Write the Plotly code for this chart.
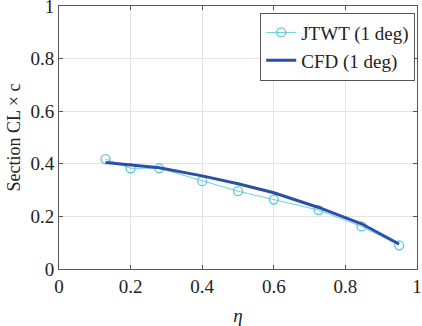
import plotly.graph_objects as go

eta_jtwt = [0.13, 0.20, 0.28, 0.40, 0.50, 0.60, 0.725, 0.845, 0.95]
cl_jtwt = [0.418, 0.383, 0.383, 0.334, 0.296, 0.264, 0.224, 0.162, 0.090]

eta_cfd = [0.13, 0.28, 0.40, 0.50, 0.60, 0.725, 0.845, 0.95]
cl_cfd = [0.405, 0.385, 0.354, 0.324, 0.290, 0.234, 0.172, 0.095]

x_ticks = [0, 0.2, 0.4, 0.6, 0.8, 1]
y_ticks = [0, 0.2, 0.4, 0.6, 0.8, 1]

font = "Liberation Serif, Times New Roman, serif"

fig = go.Figure()
fig.add_trace(go.Scatter(
    x=eta_jtwt, y=cl_jtwt, mode="lines+markers", name="JTWT (1 deg)",
    line=dict(color="#6fd0dc", width=1),
    marker=dict(symbol="circle-open", size=9, color="#5cc8d8", line=dict(width=1.3)),
))
fig.add_trace(go.Scatter(
    x=eta_cfd, y=cl_cfd, mode="lines", name="CFD (1 deg)",
    line=dict(color="#2b4fa6", width=3),
))

axis_common = dict(
    showgrid=True, gridcolor="#e3e3e3", gridwidth=1,
    showline=True, linecolor="#555555", linewidth=1, mirror="ticks",
    ticks="inside", ticklen=4, tickcolor="#555555",
    zeroline=False, automargin=False, ticklabeloverflow="allow",
    tickfont=dict(family=font, size=19, color="#222222"),
)

fig.update_layout(
    width=422, height=326,
    margin=dict(l=59, r=5, t=6, b=57),
    paper_bgcolor="white", plot_bgcolor="white",
    font=dict(family=font, size=18, color="#222222"),
    showlegend=True,
    legend=dict(
        x=0.995, y=0.975, xanchor="right", yanchor="top",
        bgcolor="white", bordercolor="#555555", borderwidth=1,
        font=dict(family=font, size=19, color="#222222"),
        tracegroupgap=0, itemwidth=30,
    ),
    xaxis=dict(range=[0, 1], tickvals=x_ticks, ticktext=[str(v) for v in x_ticks],
               title=dict(text="<i>η</i>", standoff=12, font=dict(family=font, size=19)),
               **axis_common),
    yaxis=dict(range=[0, 1], tickvals=y_ticks, ticktext=[str(v) for v in y_ticks],
               title=dict(text="Section CL × c", standoff=5, font=dict(family=font, size=18)),
               **axis_common),
)

fig.write_html("out.html", post_script="document.body.style.margin='0';",
               config={"displayModeBar": False})
